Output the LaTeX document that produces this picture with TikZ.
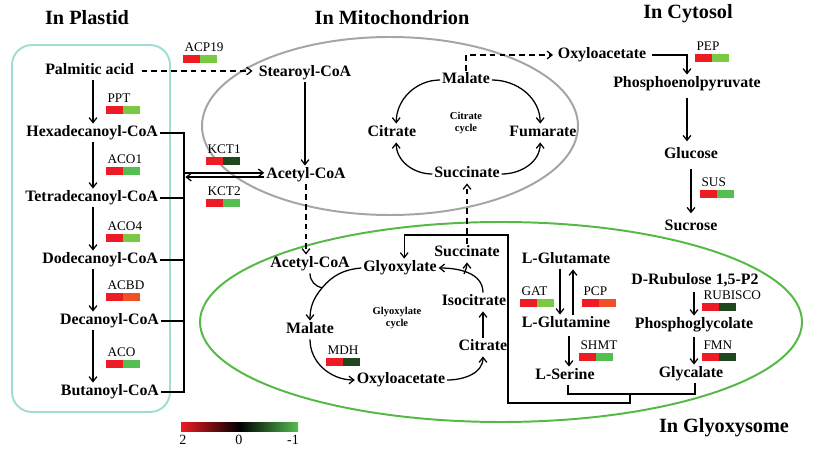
\documentclass[tikz,border=0pt]{standalone}
\usepackage{fontspec}
\setmainfont{Liberation Serif}
\definecolor{expred}{RGB}{237,28,36}
\definecolor{explgreen}{RGB}{122,201,67}
\definecolor{expgreen}{RGB}{84,190,80}
\definecolor{expdkgreen}{RGB}{32,72,32}
\definecolor{exporange}{RGB}{241,80,38}
\definecolor{plastidline}{RGB}{160,222,212}
\definecolor{mitoline}{RGB}{165,165,165}
\definecolor{glyoxline}{RGB}{85,185,70}
\usepackage{tikz}
\usetikzlibrary{arrows.meta,positioning,calc}

\tikzset{
  met/.style={font=\fontsize{11.3}{13}\selectfont\bfseries, inner sep=1pt, text height=8pt, text depth=2.5pt},
  title/.style={font=\fontsize{14.4}{16}\selectfont\bfseries, inner sep=1pt},
  gene/.style={font=\fontsize{9.4}{11}\selectfont, inner sep=0pt},
  small/.style={font=\fontsize{7.5}{8.5}\selectfont\bfseries, align=center, inner sep=0pt},
  legend/.style={font=\fontsize{10}{12}\selectfont, inner sep=0pt},
  arr/.style={-{Straight Barb[length=3.5pt,width=5.5pt]}},
  dasharr/.style={arr, dash pattern=on 4pt off 3pt},
}

% gene name above a two-colour expression bar
\newcommand{\genebar}[5]{%
  \fill[#4] #3 rectangle ++(17,-8);
  \fill[#5] #3 ++(17,0) rectangle ++(17,-8);
  \path #3 ++(1,3) node[gene, anchor=base west] (#1) {#2};
}

\begin{document}
\begin{tikzpicture}[x=0.025cm, y=0.025cm, line width=0.9pt]
    \useasboundingbox (0,0) rectangle (821,460);

    % compartments
    \draw[plastidline, line width=1.4pt, rounded corners=0.5cm] (12,48) rectangle (170,415);
    \draw[mitoline, line width=1.4pt] (390,334) ellipse [x radius=188, y radius=89];
    \draw[glyoxline, line width=1.4pt] (501,138) ellipse [x radius=301, y radius=100];

    \node[title] (tplastid) at (87,442) {In Plastid};
    \node[title] (tmito) at (392,442) {In Mitochondrion};
    \node[title] (tcyto) at (688,446) {In Cytosol};
    \node[title] (tglyox) at (724,32) {In Glyoxysome};

    % plastid
    \node[met, anchor=east] (palm) at (136,389) {Palmitic acid};
    \node[met, anchor=east] (hexa) at (160,327) {Hexadecanoyl-CoA};
    \node[met, anchor=east] (tetra) at (160,262) {Tetradecanoyl-CoA};
    \node[met, anchor=east] (dodeca) at (160,200) {Dodecanoyl-CoA};
    \node[met, anchor=east] (deca) at (161,139) {Decanoyl-CoA};
    \node[met, anchor=east] (buta) at (161,68) {Butanoyl-CoA};

    \coordinate (ax) at (93,0);
    \draw[arr] (palm.south -| ax) -- (hexa.north -| ax);
    \draw[arr] (hexa.south -| ax) -- (tetra.north -| ax);
    \draw[arr] (tetra.south -| ax) -- (dodeca.north -| ax);
    \draw[arr] (dodeca.south -| ax) -- (deca.north -| ax);
    \draw[arr] (deca.south -| ax) -- (buta.north -| ax);

    \genebar{ppt}{PPT}{(106,354)}{expred}{explgreen}
    \genebar{aco1}{ACO1}{(106,293)}{expred}{expgreen}
    \genebar{aco4}{ACO4}{(106,226)}{expred}{explgreen}
    \genebar{acbd}{ACBD}{(106,167)}{expred}{exporange}
    \genebar{aco}{ACO}{(106,100)}{expred}{expgreen}

    % mitochondrion
    \node[met] (stear) at (305,387) {Stearoyl-CoA};
    \node[met] (acetm) at (306,285) {Acetyl-CoA};
    \node[met] (malm) at (466,380) {Malate};
    \node[met] (citm) at (392,327) {Citrate};
    \node[met] (fumm) at (543,327) {Fumarate};
    \node[met] (succm) at (467,286) {Succinate};
    \node[small] (cyclem) at (466,337) {Citrate\\cycle};

    \genebar{acp19}{ACP19}{(183,405)}{expred}{explgreen}
    \genebar{kct1}{KCT1}{(206,303)}{expred}{expdkgreen}
    \genebar{kct2}{KCT2}{(206,261)}{expred}{expgreen}

    \draw[dasharr, shorten <=4pt, shorten >=3pt] (palm.east) -- (palm.east -| stear.west);
    \draw[arr] (stear.south) -- (stear.south |- acetm.north);
    \draw[arr] (malm.west) to[out=180, in=90] ([xshift=3pt]citm.north);
    \draw[arr] (malm.east) to[out=0, in=90] ([xshift=-2pt]fumm.north);
    \draw[arr] (succm.west) to[out=180, in=-90] ([xshift=3pt]citm.south);
    \draw[arr] (succm.east) to[out=0, in=-90] ([xshift=-2pt]fumm.south);

    % plastid products to acetyl-CoA
    \coordinate (bx) at (184,0);
    \draw (hexa.east) -- (hexa.east -| bx) -- (buta.east -| bx) -- (buta.east);
    \foreach \n in {tetra,dodeca,deca}
        \draw (\n.east) -- (\n.east -| bx);
    \draw[arr] ([yshift=1.5pt]acetm.west -| bx) -- ([yshift=1.5pt]acetm.west);
    \draw[arr] ([yshift=-1.5pt]acetm.west) -- ([yshift=-1.5pt,xshift=1pt]acetm.west -| bx);

    % cytosol
    \node[met] (oxyc) at (602,405) {Oxyloacetate};
    \node[met] (pep) at (687,376) {Phosphoenolpyruvate};
    \node[met] (gluc) at (691,305) {Glucose};
    \node[met] (sucr) at (691,233) {Sucrose};
    \genebar{pepg}{PEP}{(695,406)}{expred}{explgreen}
    \genebar{sus}{SUS}{(700,270)}{expred}{expgreen}

    \draw[dasharr, shorten >=2pt] (malm.north) |- (oxyc.west);
    \draw[arr, shorten <=3pt] (oxyc.east) -| (pep.north);
    \draw[arr, shorten <=3pt, shorten >=3pt] (pep.south) -- (pep.south |- gluc.north);
    \draw[arr, shorten <=3pt, shorten >=3pt] (gluc.south) -- (gluc.south |- sucr.north);

    % glyoxysome
    \node[met] (acetg) at (310,196) {Acetyl-CoA};
    \node[met] (glyx) at (400,192) {Glyoxylate};
    \node[met] (succg) at (467,207) {Succinate};
    \node[met] (isoc) at (474,158) {Isocitrate};
    \node[met] (citg) at (483,113) {Citrate};
    \node[met] (oxyg) at (401,80) {Oxyloacetate};
    \node[met] (malg) at (310,130) {Malate};
    \node[small] (cycleg) at (397,142) {Glyoxylate\\cycle};
    \genebar{mdh}{MDH}{(326,102)}{expred}{expdkgreen}

    \draw[dasharr] (acetm.south) -- (acetm.south |- acetg.north);
    \draw[dasharr] (succg.north) -- (succm.south);

    \coordinate (join) at (322,172);
    \coordinate (fork) at (464,186);
    \draw[arr] (glyx.west) to[out=185, in=50] (join) to[out=230, in=90] (malg.north);
    \draw (acetg.south) to[out=-90, in=165] (join);
    \draw[arr] (malg.south) to[out=-90, in=180] (oxyg.west);
    \draw[arr] (oxyg.east) to[out=0, in=-90] (citg.south);
    \draw[arr] (citg.north) -- (citg.north |- isoc.south);
    \draw[arr] (isoc.north -| citg.north) to[out=90, in=0] (glyx.east);
    \draw[arr] (fork) to[out=70, in=-90] (succg.south);

    \node[met] (glut) at (566,200) {L-Glutamate};
    \node[met] (glun) at (566,136) {L-Glutamine};
    \node[met] (ser) at (565,84) {L-Serine};
    \node[met] (rub) at (695,179) {D-Rubulose 1,5-P2};
    \node[met] (phg) at (694,135) {Phosphoglycolate};
    \node[met] (glyc) at (691,86) {Glycalate};

    \genebar{gat}{GAT}{(520,161)}{expred}{explgreen}
    \genebar{pcp}{PCP}{(582,161)}{expred}{exporange}
    \genebar{shmt}{SHMT}{(579,107)}{expred}{expgreen}
    \genebar{rubisco}{RUBISCO}{(702,157)}{expred}{expdkgreen}
    \genebar{fmn}{FMN}{(702,107)}{expred}{expdkgreen}

    \draw[arr] (glut.south -| 560,0) -- (glun.north -| 560,0);
    \draw[arr] (glun.north -| 573,0) -- (glut.south -| 573,0);
    \draw[arr, shorten <=2pt] (glun.south -| 569,0) -- (ser.north -| 569,0);
    \draw[arr, shorten <=1pt] (rub.south -| 694,0) -- (phg.north -| 694,0);
    \draw[arr, shorten <=2pt] (phg.south -| 694,0) -- (glyc.north -| 694,0);

    % serine and glycolate back to glyoxylate
    \coordinate (jn) at (630,66);
    \coordinate (bt) at (508,57);
    \coordinate (rt) at (508,225);
    \draw (ser.south -| 568,0) -- (jn -| 568,0) -- (jn -| 695,0) -- (glyc.south -| 695,0);
    \draw[arr] (jn) |- (bt) -- (rt) -| ([xshift=3pt]glyx.north);

    % legend
    \shade[left color=expred, right color=expgreen, middle color=black] (181,29) rectangle (298,37);
    \node[legend] (l2) at (183,20) {2};
    \node[legend] (l0) at (239,20) {0};
    \node[legend] (lm1) at (293,20) {-1};
\end{tikzpicture}
\end{document}
